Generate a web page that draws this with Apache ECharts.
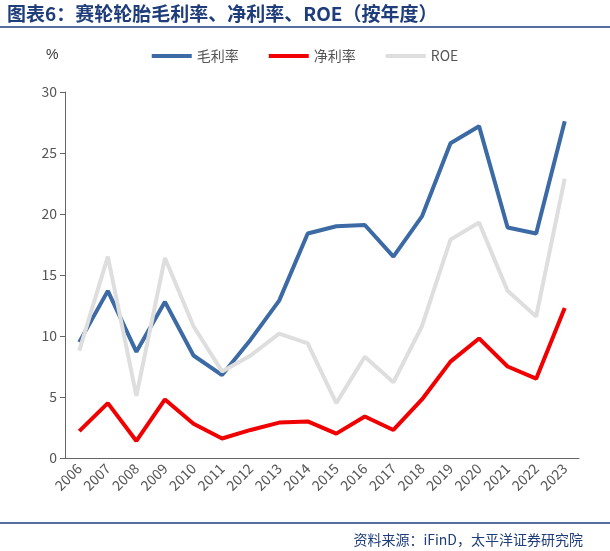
<!DOCTYPE html>
<html><head><meta charset="utf-8">
<script src="https://cdn.jsdelivr.net/npm/echarts@6/dist/echarts.min.js"></script>
<style>body{margin:0;background:#fff}#c{width:610px;height:551px}</style>
</head><body><div id="c"></div>
<script>
const years=['2006','2007','2008','2009','2010','2011','2012','2013','2014','2015','2016','2017','2018','2019','2020','2021','2022','2023'];
const gross=[9.5,13.7,8.7,12.8,8.4,6.8,9.7,12.9,18.4,19.0,19.1,16.5,19.8,25.8,27.2,18.9,18.4,27.6];
const net=[2.2,4.5,1.4,4.8,2.8,1.6,2.3,2.9,3.0,2.0,3.4,2.3,4.8,7.9,9.8,7.5,6.5,12.3];
const roe=[8.8,16.5,5.1,16.4,10.8,7.1,8.4,10.2,9.4,4.5,8.3,6.2,10.8,17.9,19.3,13.7,11.6,22.9];
const names=['毛利率','净利率','ROE'];
const chart=echarts.init(document.getElementById('c'));
const f='"Noto Sans CJK SC", sans-serif';
chart.setOption({
  animation:false,
  textStyle:{fontFamily:f},
  title:[{text:'图表6：赛轮轮胎毛利率、净利率、ROE（按年度）',left:2,top:-1,textStyle:{fontSize:19,fontWeight:'bold',color:'#1f3d7a',fontFamily:f}},
         {text:'资料来源：iFinD，太平洋证券研究院',right:22,top:528,textStyle:{fontSize:14,fontWeight:'normal',color:'#1f3d7a',fontFamily:f}}],
  graphic:[{type:'line',shape:{x1:0,y1:27,x2:610,y2:27},style:{stroke:'#1f3d7a',lineWidth:1.5}},
           {type:'line',shape:{x1:0,y1:523,x2:610,y2:523},style:{stroke:'#1f3d7a',lineWidth:1.5}},
           {type:'text',left:46,top:48,style:{text:'%',fontSize:14,fill:'#333',font:'14px '+f}}],
  legend:{top:44,left:'center',itemWidth:40,itemHeight:4,itemGap:30,icon:'rect',textStyle:{fontSize:14,color:'#555'},data:names},
  grid:{left:65,right:31,top:92,bottom:93},
  xAxis:{type:'category',data:years,boundaryGap:true,axisLine:{lineStyle:{color:'#666'}},axisTick:{show:false},
    axisLabel:{rotate:45,color:'#555',fontSize:14,interval:0}},
  yAxis:{type:'value',min:0,max:30,interval:5,axisLine:{show:true,lineStyle:{color:'#666'}},axisTick:{show:true,lineStyle:{color:'#666'}},splitLine:{show:false},
    axisLabel:{color:'#555',fontSize:14}},
  series:[
    {name:names[0],type:'line',data:gross,symbol:'none',lineStyle:{width:4,color:'#3b6aa5'},itemStyle:{color:'#3b6aa5'}},
    {name:names[1],type:'line',data:net,symbol:'none',lineStyle:{width:4,color:'#f00000'},itemStyle:{color:'#f00000'}},
    {name:names[2],type:'line',data:roe,symbol:'none',lineStyle:{width:4,color:'#dedede'},itemStyle:{color:'#dedede'}}
  ]
});
</script></body></html>
